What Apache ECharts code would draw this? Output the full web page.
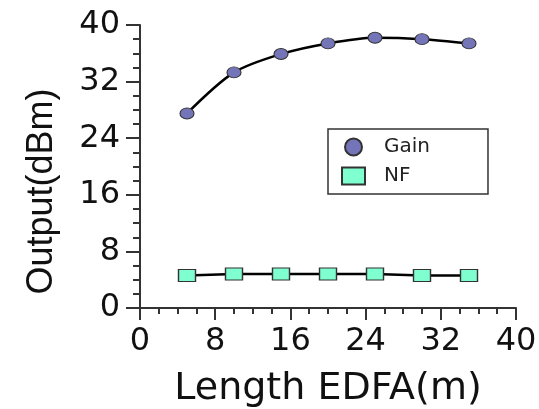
<!DOCTYPE html>
<html><head><meta charset="utf-8">
<script src="https://cdn.jsdelivr.net/npm/echarts@6/dist/echarts.min.js"></script>
<style>html,body{margin:0;padding:0;background:#fff}#c{width:539px;height:409px}</style>
</head><body><div id="c"></div>
<script>
var lengths = [5, 10, 15, 20, 25, 30, 35];
var gain = [27.5, 33.3, 35.9, 37.4, 38.2, 38.0, 37.4];
var nf = [4.6, 4.8, 4.8, 4.8, 4.8, 4.6, 4.6];
var xTicks = [0, 8, 16, 24, 32, 40];
var yTicks = [0, 8, 16, 24, 32, 40];
var ellipse = 'path://M0,10a10,10 0 1,0 20,0a10,10 0 1,0 -20,0z';
function pairs(xs, ys){ return xs.map(function(x,i){ return [x, ys[i]]; }); }
var axisColor = '#333';
var chart = echarts.init(document.getElementById('c'));
chart.setOption({
  animation: false,
  backgroundColor: '#fff',
  grid: {left: 140, right: 23, top: 25, bottom: 101, outerBoundsMode: 'none', containLabel: false},
  legend: {
    orient: 'vertical', left: 328, top: 129,
    padding: [8, 58, 8, 13], itemGap: 9,
    borderColor: '#333', borderWidth: 1.5,
    itemWidth: 23, itemHeight: 17,
    textStyle: {fontFamily: 'DejaVu Sans', fontSize: 20, color: '#222', padding: [0, 0, 0, 14]},
    data: [{name: 'Gain', icon: ellipse}, {name: 'NF', icon: 'rect'}]
  },
  xAxis: {
    type: 'value', min: xTicks[0], max: xTicks[xTicks.length-1], interval: 8,
    name: 'Length EDFA(m)', nameLocation: 'middle', nameGap: 62,
    nameTextStyle: {fontFamily: 'DejaVu Sans', fontSize: 38, color: '#111'},
    axisLine: {show: true, lineStyle: {color: axisColor, width: 2}},
    axisTick: {show: true, length: 12, lineStyle: {color: axisColor, width: 2}},
    minorTick: {show: true, splitNumber: 4, length: 6, lineStyle: {color: axisColor, width: 2}},
    splitLine: {show: false},
    axisLabel: {margin: 18, fontFamily: 'DejaVu Sans', fontSize: 32, color: '#111'}
  },
  yAxis: {
    type: 'value', min: yTicks[0], max: yTicks[yTicks.length-1], interval: 8,
    name: 'Output(dBm)', nameLocation: 'middle', nameGap: 80,
    nameTextStyle: {fontFamily: 'Liberation Sans', fontSize: 36, color: '#111', padding: [0, 50, 0, 0]},
    axisLine: {show: true, lineStyle: {color: axisColor, width: 2}},
    axisTick: {show: true, length: 14, lineStyle: {color: axisColor, width: 2}},
    minorTick: {show: true, splitNumber: 4, length: 7, lineStyle: {color: axisColor, width: 2}},
    splitLine: {show: false},
    axisLabel: {margin: 20, fontFamily: 'DejaVu Sans', fontSize: 32, color: '#111'}
  },
  series: [
    {
      name: 'Gain', type: 'line', data: pairs(lengths, gain), smooth: 0.3,
      symbol: ellipse, symbolSize: [14, 11],
      lineStyle: {color: '#000', width: 2.5},
      itemStyle: {color: '#7474b8', borderColor: '#333', borderWidth: 1}
    },
    {
      name: 'NF', type: 'line', data: pairs(lengths, nf),
      symbol: 'rect', symbolSize: [17, 12],
      lineStyle: {color: '#000', width: 2.5},
      itemStyle: {color: '#7fffd0', borderColor: '#333', borderWidth: 1.2}
    }
  ]
});
</script></body></html>
